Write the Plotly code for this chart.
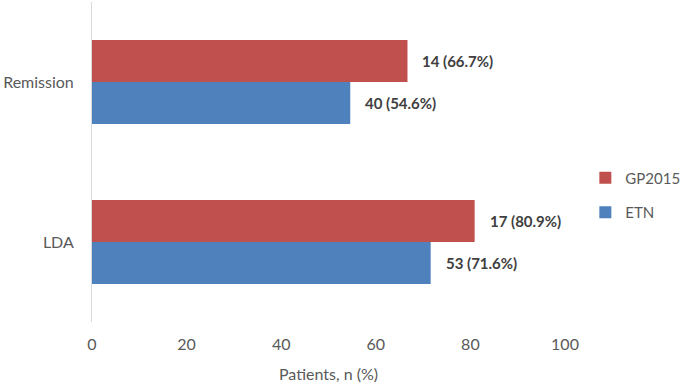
import plotly.graph_objects as go

categories = ["Remission", "LDA"]
etn_values = [54.6, 71.6]
etn_counts = [40, 53]
gp_values = [66.7, 80.9]
gp_counts = [14, 17]
x_ticks = [0, 20, 40, 60, 80, 100]

RED = "#C0504D"
BLUE = "#4F81BD"
FONT = "Lato"

fig = go.Figure()
fig.add_trace(go.Bar(
    y=categories, x=etn_values, orientation="h", name="ETN",
    marker=dict(color=BLUE, line=dict(width=0)), legendgroup="etn", legendrank=2,
))
fig.add_trace(go.Bar(
    y=categories, x=gp_values, orientation="h", name="GP2015",
    marker=dict(color=RED, line=dict(width=0)), legendgroup="gp", legendrank=1,
))

for cat, v, n in zip(categories, gp_values, gp_counts):
    fig.add_annotation(x=v, y=cat, text=f"<b>{n} ({v}%)</b>", showarrow=False,
                       xanchor="left", xshift=13, yshift=21,
                       font=dict(family=FONT, size=15, color="#404040"))
for cat, v, n in zip(categories, etn_values, etn_counts):
    fig.add_annotation(x=v, y=cat, text=f"<b>{n} ({v}%)</b>", showarrow=False,
                       xanchor="left", xshift=13, yshift=-21,
                       font=dict(family=FONT, size=15, color="#404040"))

fig.update_layout(
    width=685, height=385,
    margin=dict(l=92, r=120, t=2, b=63, autoexpand=False),
    paper_bgcolor="white", plot_bgcolor="white",
    barmode="group", bargap=0.475, bargroupgap=0,
    font=dict(family=FONT, size=16, color="#595959"),
    showlegend=True,
    legend=dict(x=1.043, y=0.397, xanchor="left", yanchor="middle",
                traceorder="grouped", tracegroupgap=12,
                font=dict(family=FONT, size=15, color="#595959"),
                itemwidth=30),
    xaxis=dict(range=[0, 100], tickvals=x_ticks, showgrid=False, zeroline=False,
               showline=False, ticks="", ticklabelstandoff=11,
               tickfont=dict(size=16, color="#595959"),
               title=dict(text="Patients, n (%)", font=dict(size=16, color="#595959"), standoff=16)),
    yaxis=dict(categoryorder="array", categoryarray=["LDA", "Remission"],
               showgrid=False, zeroline=False, showline=True, linecolor="#D9D9D9",
               linewidth=1, ticks="", ticklabelstandoff=14,
               tickfont=dict(size=16, color="#595959")),
)

fig.write_html("out.html", config={"displayModeBar": False},
               post_script="document.body.style.margin='0';document.body.style.padding='0';")
